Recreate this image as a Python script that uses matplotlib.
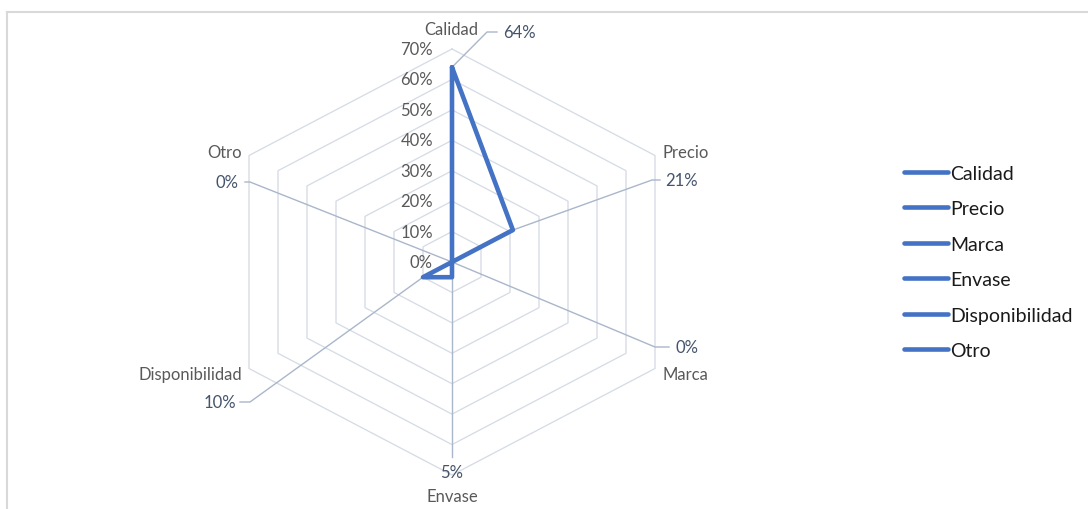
import numpy as np
import matplotlib
matplotlib.use("Agg")
import matplotlib.pyplot as plt
from matplotlib.lines import Line2D

plt.rcParams['font.family'] = ['Lato', 'DejaVu Sans']

# datos
categorias = ['Calidad', 'Precio', 'Marca', 'Envase', 'Disponibilidad', 'Otro']
valores = [64, 21, 0, 5, 10, 0]
niveles = [0, 10, 20, 30, 40, 50, 60, 70]
etiquetas_nivel = ['0%', '10%', '20%', '30%', '40%', '50%', '60%', '70%']
etiquetas_dato = ['64%', '21%', '0%', '5%', '10%', '0%']

AZUL = '#4472C4'
REJILLA = '#D6DCE5'
GUIA = '#AAB6CA'
GRIS = '#595959'
DATO = '#44546A'
FS = 12

W, H = 1088, 510
# centro del radar en pixeles y escala (px por 1%)
CX, CY = 452, 263
SY = 213 / 70.0
SX = 203 / (70 * np.sin(np.pi / 3))


def p2d(px, py):
    # pixel de la figura -> coordenadas del eje
    return (px - CX) / SX, (CY - py) / SY


fig = plt.figure(figsize=(W / 100, H / 100), dpi=100)
ax = fig.add_axes([0, 0, 1, 1])
ax.set_xlim(-CX / SX, (W - CX) / SX)
ax.set_ylim(-(H - CY) / SY, CY / SY)
ax.axis('off')

ang = np.arange(len(categorias)) * np.pi / 3
ang_c = np.append(ang, ang[0])

# rejilla hexagonal
for n in niveles[1:]:
    ax.plot(n * np.sin(ang_c), n * np.cos(ang_c), color=REJILLA, lw=0.95, zorder=1)

# etiquetas del eje radial
for n, t in zip(niveles, etiquetas_nivel):
    x, _ = p2d(433, 0)
    ax.text(x, n, t, ha='right', va='center', fontsize=FS, color=GRIS, zorder=4)

# serie
v = np.array(valores, dtype=float)
v_c = np.append(v, v[0])
ax.plot(v_c * np.sin(ang_c), v_c * np.cos(ang_c), color=AZUL, lw=3.3,
        solid_joinstyle='round', solid_capstyle='round', zorder=3)

# posiciones de las etiquetas de datos (codo, fin de guia, texto, alineacion)
pos_dato = [
    ((487, 33), (497, 33), (503, 33), 'left'),
    ((652, 181), (660, 181), (665, 181), 'left'),
    ((655, 348), (669, 348), (675, 348), 'left'),
    (None, (452, 458), (452, 473), 'center'),
    ((250, 403), (240, 403), (236, 403), 'right'),
    ((250, 183), (245, 183), (238, 183), 'right'),
]
for val, a, t, (codo, fin, txt, ha) in zip(valores, ang, etiquetas_dato, pos_dato):
    xs = [val * np.sin(a)]
    ys = [val * np.cos(a)]
    for p in (codo, fin):
        if p is not None:
            x, y = p2d(*p)
            xs.append(x)
            ys.append(y)
    ax.plot(xs, ys, color=GUIA, lw=1.0, zorder=2)
    x, y = p2d(*txt)
    ax.text(x, y, t, ha=ha, va='center', fontsize=FS, color=DATO, zorder=4)

# etiquetas de categoria
pos_cat = [
    ((451, 30), 'center'),
    ((663, 153), 'left'),
    ((663, 375), 'left'),
    ((452, 497), 'center'),
    ((242, 375), 'right'),
    ((242, 153), 'right'),
]
for c, ((px, py), ha) in zip(categorias, pos_cat):
    x, y = p2d(px, py)
    ax.text(x, y, c, ha=ha, va='center', fontsize=FS, color=GRIS, zorder=4)

# leyenda
handles = [Line2D([], [], color=AZUL, lw=3.3, solid_capstyle='round') for _ in categorias]
fig.legend(handles, categorias, loc='center left', bbox_to_anchor=(886 / W, 1 - 263 / H),
           frameon=False, fontsize=14, handlelength=2.3, handletextpad=0.1,
           labelspacing=0.95, labelcolor='#1a1a1a')

# marco del area del grafico
fig.add_artist(Line2D([7 / W, 1], [1 - 13 / H, 1 - 13 / H], color='#D9D9D9', lw=1.5,
                      transform=fig.transFigure))
fig.add_artist(Line2D([7 / W, 7 / W], [1 - 13 / H, 0], color='#D9D9D9', lw=1.5,
                      transform=fig.transFigure))

fig.savefig('out.png', dpi=100)
